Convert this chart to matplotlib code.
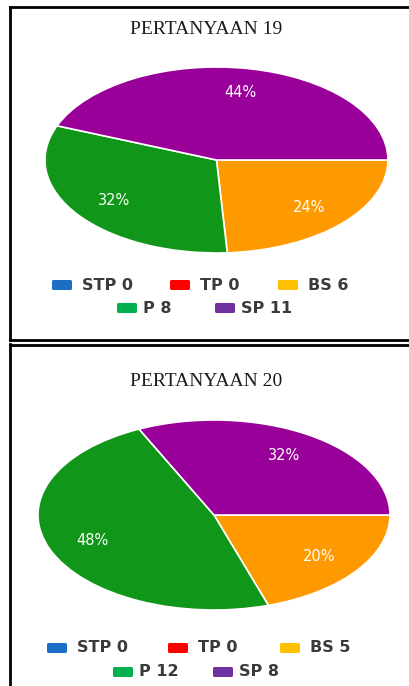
#Two survey pie charts (Pertanyaan 19 and 20)
import matplotlib.pyplot as plt
from matplotlib.lines import Line2D
from matplotlib.patches import FancyBboxPatch

W, H = 410, 686

categories = ['STP', 'TP', 'BS', 'P', 'SP']
counts_19 = [0, 0, 6, 8, 11]
counts_20 = [0, 0, 5, 12, 8]
titles = ['PERTANYAAN 19', 'PERTANYAAN 20']

# pie slice colours vs legend swatch colours (they differ in the original)
pie_colors = ['#3366cc', '#dc3912', '#ff9900', '#109618', '#990099']
legend_colors = ['#1a6fc4', '#ff0000', '#ffc000', '#00b050', '#7030a0']

fig = plt.figure(figsize=(W / 100, H / 100), dpi=100)


def fx(x):
    return x / W


def fy(y):
    return 1 - y / H


def hline(y, x0, x1):
    fig.add_artist(Line2D([fx(x0), fx(x1)], [fy(y), fy(y)], color='black', lw=2,
                          transform=fig.transFigure))


def vline(x, y0, y1):
    fig.add_artist(Line2D([fx(x), fx(x)], [fy(y0), fy(y1)], color='black', lw=2,
                          transform=fig.transFigure))


# panel borders
hline(7, 10, 412)
vline(10.5, 7, 340)
hline(340, 10, 412)
hline(344.5, 10, 412)
vline(10.5, 344, 690)

# (title y, pie box left, top, right, bottom, legend row1 y, row2 y)
panels = [
    (30, 45, 67, 388, 253, 285, 308),
    (382, 38, 420, 390, 610, 648, 672),
]
row1_x = [[52, 170, 278], [47, 168, 280]]
row2_x = [[117, 215], [113, 213]]

for i, counts in enumerate([counts_19, counts_20]):
    ty, l, t, r, b, ly1, ly2 = panels[i]
    fig.text(fx(206), fy(ty), titles[i], ha='center', va='center',
             family='Liberation Serif', fontsize=14, color='#1a1a1a')

    ax = fig.add_axes([fx(l), fy(b), fx(r - l), (b - t) / H])
    vals = [c for c in counts if c > 0]
    cols = [pie_colors[j] for j, c in enumerate(counts) if c > 0]
    wedges, texts, autotexts = ax.pie(vals, colors=cols, startangle=0, counterclock=False,
                                      autopct='%1.0f%%', pctdistance=0.74,
                                      wedgeprops=dict(edgecolor='white', linewidth=1.2),
                                      textprops=dict(color='white', fontsize=10.5))
    ax.set_aspect('auto')
    ax.set_xlim(-1.0, 1.0)
    ax.set_ylim(-1.0, 1.0)

    # legend, two centred rows
    labels = [f'{c} {n}' for c, n in zip(categories, counts)]
    xs = row1_x[i] + row2_x[i]
    ys = [ly1] * 3 + [ly2] * 2
    for j, lab in enumerate(labels):
        x, y = xs[j], ys[j]
        fig.add_artist(FancyBboxPatch((fx(x), fy(y + 5)), fx(20), 10 / H,
                                      boxstyle='round,pad=0,rounding_size=0.003',
                                      facecolor=legend_colors[j], edgecolor='none',
                                      transform=fig.transFigure))
        off = 30 if j < 3 else 26
        fig.text(fx(x + off), fy(y), lab, ha='left', va='center', fontsize=11.5,
                 fontweight='bold', color='#3a3a3a')

fig.savefig('out.png', dpi=100, facecolor='white')
